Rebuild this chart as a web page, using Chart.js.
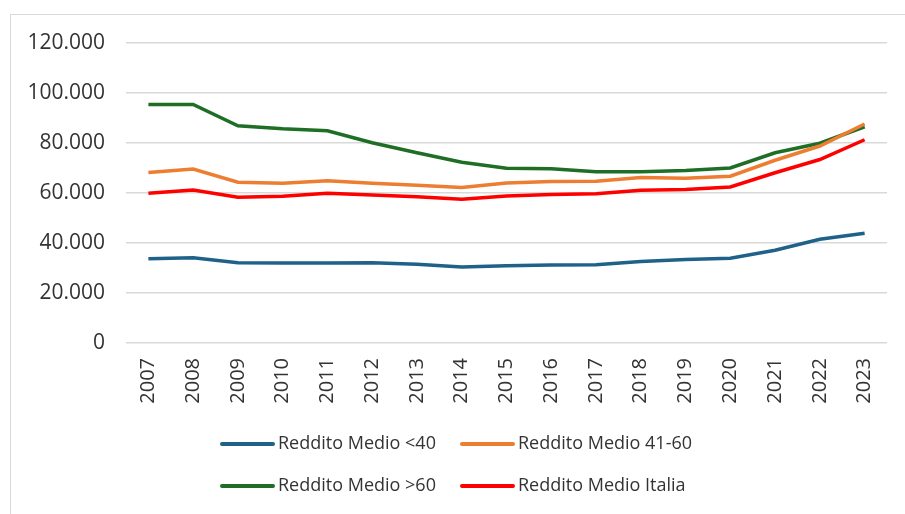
<!DOCTYPE html>
<html>
<head>
<meta charset="utf-8">
<script src="https://cdn.jsdelivr.net/npm/chart.js@4"></script>
<style>
  html, body { margin: 0; padding: 0; background: #fff; }
  #wrap { position: relative; width: 905px; height: 514px; overflow: hidden; }
  #frame { position: absolute; left: 10px; top: 14px; width: 920px; height: 520px; border: 1.5px solid #d9d9d9; box-sizing: border-box; }
  canvas { position: absolute; left: 0; top: 0; }
</style>
</head>
<body>
<div id="wrap">
  <div id="frame"></div>
  <canvas id="c" width="905" height="514"></canvas>
</div>
<script>
const years = ["2007","2008","2009","2010","2011","2012","2013","2014","2015","2016","2017","2018","2019","2020","2021","2022","2023"];
const seriesNames = ["Reddito Medio <40", "Reddito Medio 41-60", "Reddito Medio >60", "Reddito Medio Italia"];
const redditoUnder40 = [33700, 34100, 32100, 32000, 32000, 32100, 31500, 30400, 30900, 31200, 31300, 32600, 33400, 33900, 37100, 41500, 43900];
const reddito41to60 = [68200, 69600, 64300, 63900, 64900, 63900, 63100, 62200, 64000, 64600, 64700, 66200, 65900, 66700, 73100, 78800, 87600];
const redditoOver60 = [95400, 95400, 86900, 85700, 84900, 80100, 76100, 72300, 69900, 69700, 68500, 68500, 69000, 70000, 76100, 79900, 86500];
const redditoItalia = [59900, 61200, 58300, 58700, 59900, 59200, 58500, 57500, 58800, 59400, 59700, 61100, 61400, 62400, 68100, 73400, 81300];
const yTicks = [0, 20000, 40000, 60000, 80000, 100000, 120000];

const colors = ["#1f6189", "#ed7d31", "#1e6e26", "#ff0000"];
const seriesData = [redditoUnder40, reddito41to60, redditoOver60, redditoItalia];
const FONT = "'Open Sans', sans-serif";
const TEXT = "#333333";

const legendPlugin = {
  id: 'customLegend',
  afterDraw(chart) {
    const ctx = chart.ctx;
    const pos = [[222, 444], [462, 444], [222, 486], [462, 486]];
    ctx.save();
    chart.data.datasets.forEach((ds, i) => {
      const [x, y] = pos[i];
      ctx.strokeStyle = ds.borderColor;
      ctx.lineWidth = 4;
      ctx.lineCap = 'round';
      ctx.beginPath();
      ctx.moveTo(x, y);
      ctx.lineTo(x + 51, y);
      ctx.stroke();
      ctx.fillStyle = TEXT;
      ctx.font = "18px " + FONT;
      ctx.textBaseline = 'middle';
      ctx.textAlign = 'left';
      ctx.fillText(ds.label, x + 56, y);
    });
    ctx.restore();
  }
};

new Chart(document.getElementById('c'), {
  type: 'line',
  data: {
    labels: years,
    datasets: seriesNames.map((n, i) => ({
      label: n,
      data: seriesData[i],
      borderColor: colors[i],
      backgroundColor: colors[i],
      borderWidth: 3.5,
      pointRadius: 0,
      tension: 0,
      fill: false
    }))
  },
  options: {
    responsive: false,
    animation: false,
    layout: { padding: { left: 0, right: 18, top: 43, bottom: 71 } },
    plugins: { legend: { display: false }, tooltip: { enabled: false }, title: { display: false } },
    scales: {
      x: {
        offset: true,
        grid: { display: false, drawTicks: false },
        border: { display: false },
        ticks: {
          minRotation: 90, maxRotation: 90, padding: 15,
          color: TEXT, font: { family: FONT, size: 20 }
        },
        afterFit(s) { s.height = 100; }
      },
      y: {
        min: 0, max: 120000,
        afterBuildTicks(s) { s.ticks = yTicks.map(v => ({ value: v })); },
        grid: { color: "#d9d9d9", lineWidth: 1.5, drawTicks: false },
        border: { display: false },
        ticks: {
          padding: 21, color: TEXT, font: { family: FONT, size: 21 },
          callback: v => v === 0 ? "0" : v.toLocaleString('de-DE')
        },
        afterFit(s) { s.width = 126; }
      }
    }
  },
  plugins: [legendPlugin]
});
</script>
</body>
</html>
